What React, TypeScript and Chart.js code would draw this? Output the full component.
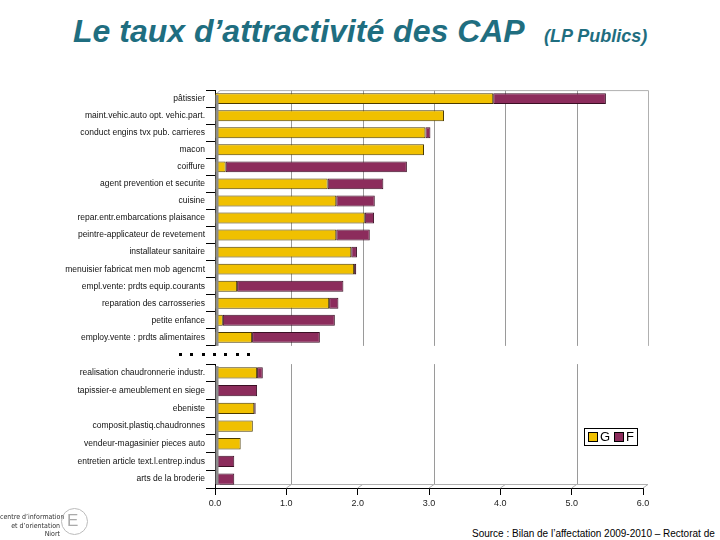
import React, { useEffect, useRef } from "react";
import { Chart, registerables } from "chart.js";

Chart.register(...registerables);

const topLabels = [
  "pâtissier",
  "maint.vehic.auto opt. vehic.part.",
  "conduct engins tvx pub. carrieres",
  "macon",
  "coiffure",
  "agent prevention et securite",
  "cuisine",
  "repar.entr.embarcations plaisance",
  "peintre-applicateur de revetement",
  "installateur sanitaire",
  "menuisier fabricat men mob agencmt",
  "empl.vente: prdts equip.courants",
  "reparation des carrosseries",
  "petite enfance",
  "employ.vente : prdts alimentaires",
];
const topG = [3.9, 3.21, 2.95, 2.93, 0.15, 1.58, 1.7, 2.1, 1.7, 1.91, 1.95, 0.31, 1.6, 0.11, 0.52];
const topF = [1.58, 0, 0.07, 0, 2.54, 0.78, 0.54, 0.13, 0.47, 0.08, 0.03, 1.49, 0.13, 1.57, 0.95];

const bottomLabels = [
  "realisation chaudronnerie industr.",
  "tapissier-e ameublement en siege",
  "ebeniste",
  "composit.plastiq.chaudronnes",
  "vendeur-magasinier pieces auto",
  "entretien article text.l.entrep.indus",
  "arts de la broderie",
];
const bottomG = [0.59, 0, 0.55, 0.53, 0.36, 0, 0];
const bottomF = [0.08, 0.59, 0.02, 0, 0, 0.27, 0.27];

const xTicks = [0, 1, 2, 3, 4, 5, 6];
const seriesNames = ["G", "F"];

const GOLD = "#F0C000";
const GOLD_BORDER = "#4a3a00";
const MAROON = "#8C2C5C";
const MAROON_BORDER = "#3a0f24";
const LABEL_FONT = "'Liberation Sans', Arial, sans-serif";

function makeDecor(kind: "top" | "bottom") {
  return {
    id: "decor-" + kind,
    beforeDatasetsDraw(chart: any) {
      const { ctx, chartArea } = chart;
      const xs = chart.scales.x;
      const off = 5;
      const x0 = xs.getPixelForValue(0);
      const x6 = xs.getPixelForValue(6);
      ctx.save();
      ctx.strokeStyle = "#9a9a9a";
      ctx.lineWidth = 1;
      const bottomY = kind === "top" ? chartArea.bottom : chartArea.bottom - 4;
      const grid = kind === "top" ? [1, 2, 3, 4, 5] : [1, 3, 5];
      for (const v of grid) {
        const x = Math.round(xs.getPixelForValue(v) + off) + 0.5;
        ctx.beginPath();
        ctx.moveTo(x, chartArea.top);
        ctx.lineTo(x, bottomY);
        ctx.stroke();
      }
      if (kind === "top") {
        ctx.strokeStyle = "#b0b0b0";
        ctx.beginPath();
        ctx.moveTo(x0 + off, chartArea.top + 0.5);
        ctx.lineTo(x6 + off + 0.5, chartArea.top + 0.5);
        ctx.lineTo(x6 + off + 0.5, chartArea.bottom);
        ctx.stroke();
        ctx.beginPath();
        ctx.moveTo(x0, chartArea.top + 5);
        ctx.lineTo(x0 + off, chartArea.top + 0.5);
        ctx.stroke();
      } else {
        ctx.strokeStyle = "#b0b0b0";
        ctx.beginPath();
        ctx.moveTo(x0 + off, bottomY + 0.5);
        ctx.lineTo(x6 + off, bottomY + 0.5);
        ctx.lineTo(x6, chartArea.bottom);
        ctx.stroke();
        for (const v of [1, 2, 3, 4, 5]) {
          const x = xs.getPixelForValue(v);
          ctx.beginPath();
          ctx.moveTo(x, chartArea.bottom);
          ctx.lineTo(x + off, bottomY + 0.5);
          ctx.stroke();
        }
      }
      ctx.restore();
    },
    afterDatasetsDraw(chart: any) {
      const { ctx, chartArea } = chart;
      const xs = chart.scales.x;
      const x0 = xs.getPixelForValue(0);
      const bottomY = kind === "top" ? chartArea.bottom : chartArea.bottom - 4;
      const wallTop = kind === "top" ? chartArea.top + 5 : chartArea.top + 2;
      ctx.save();
      ctx.fillStyle = "#8c8c8c";
      ctx.fillRect(x0 + 0.5, wallTop, 3, bottomY - wallTop);
      ctx.restore();
    },
    afterDraw(chart: any) {
      if (kind !== "bottom") return;
      const { ctx } = chart;
      const lx = 584;
      const ly = 428 - 358;
      ctx.save();
      ctx.fillStyle = "#ffffff";
      ctx.fillRect(lx, ly, 53, 17);
      ctx.strokeStyle = "#000";
      ctx.lineWidth = 1;
      ctx.strokeRect(lx + 0.5, ly + 0.5, 53, 17);
      const colors = [GOLD, MAROON];
      const px = [lx + 4, lx + 30];
      ctx.font = "13px " + LABEL_FONT;
      ctx.textBaseline = "middle";
      seriesNames.forEach((n, i) => {
        ctx.fillStyle = colors[i];
        ctx.fillRect(px[i], ly + 4, 10, 10);
        ctx.strokeStyle = "#000";
        ctx.strokeRect(px[i] + 0.5, ly + 4.5, 9, 9);
        ctx.fillStyle = "#000";
        ctx.fillText(n, px[i] + 12, ly + 9.5);
      });
      ctx.restore();
    },
  };
}

function buildConfig(labels: string[], g: number[], f: number[], kind: "top" | "bottom", padTop: number, padBottom: number) {
  return {
    type: "bar" as const,
    data: {
      labels,
      datasets: [
        {
          label: seriesNames[0],
          data: g,
          backgroundColor: GOLD,
          borderColor: GOLD_BORDER,
          borderWidth: 1,
          borderSkipped: false,
          barPercentage: 0.64,
          categoryPercentage: 1,
        },
        {
          label: seriesNames[1],
          data: f,
          backgroundColor: MAROON,
          borderColor: MAROON_BORDER,
          borderWidth: 1,
          borderSkipped: false,
          barPercentage: 0.64,
          categoryPercentage: 1,
        },
      ],
    },
    options: {
      indexAxis: "y" as const,
      responsive: false,
      animation: false as const,
      layout: { padding: { top: padTop, bottom: padBottom, left: 0, right: 17 } },
      plugins: { legend: { display: false }, tooltip: { enabled: false } },
      scales: {
        x: {
          stacked: true,
          min: 0,
          max: 6,
          display: kind === "bottom",
          afterBuildTicks: (s: any) => {
            s.ticks = xTicks.map((v) => ({ value: v }));
          },
          ticks: {
            callback: (v: any) => Number(v).toFixed(1),
            font: { size: 9, family: LABEL_FONT },
            color: "#222",
            padding: 3,
            maxRotation: 0,
          },
          grid: { drawOnChartArea: false, color: "#000", tickLength: 7 },
          border: { color: "#000", width: 1 },
          afterFit: (s: any) => {
            s.height = kind === "bottom" ? 30 : 0;
          },
        },
        y: {
          stacked: true,
          ticks: {
            font: { size: 8.5, family: LABEL_FONT },
            color: "#111",
            padding: 1,
            autoSkip: false,
          },
          grid: { offset: true, drawOnChartArea: false, color: "#000", tickLength: 9 },
          border: { color: "#000", width: 1 },
          afterFit: (s: any) => {
            s.width = 215;
          },
        },
      },
    },
    plugins: [makeDecor(kind)],
  };
}

export default function App() {
  const topRef = useRef<HTMLCanvasElement>(null);
  const botRef = useRef<HTMLCanvasElement>(null);

  useEffect(() => {
    const c1 = new Chart(topRef.current as HTMLCanvasElement, buildConfig(topLabels, topG, topF, "top", 4, 3) as any);
    const c2 = new Chart(botRef.current as HTMLCanvasElement, buildConfig(bottomLabels, bottomG, bottomF, "bottom", 6, 0) as any);
    return () => {
      c1.destroy();
      c2.destroy();
    };
  }, []);

  const dots = [0, 1, 2, 3, 4, 5, 6];

  return (
    <div style={{ position: "fixed", left: 0, top: 0, width: 720, height: 540, background: "#fff", overflow: "hidden", fontFamily: LABEL_FONT }}>
      <div style={{ position: "absolute", left: 73, top: 15, fontSize: 32, lineHeight: "32px", fontStyle: "italic", fontWeight: "bold", color: "#1F6E80", whiteSpace: "nowrap" }}>
        Le taux d’attractivité des CAP
      </div>
      <div style={{ position: "absolute", left: 544, top: 27, fontSize: 18, lineHeight: "18px", fontStyle: "italic", fontWeight: "bold", color: "#1F6E80", whiteSpace: "nowrap" }}>
        (LP Publics)
      </div>
      <canvas ref={topRef} width={660} height={268} style={{ position: "absolute", left: 0, top: 84, width: 660, height: 268 }} />
      <canvas ref={botRef} width={660} height={160} style={{ position: "absolute", left: 0, top: 358, width: 660, height: 160 }} />
      {dots.map((i) => (
        <div key={i} style={{ position: "absolute", left: 179 + i * 11.3, top: 353, width: 3, height: 3, background: "#000" }} />
      ))}
      <div style={{ position: "absolute", left: 472, top: 528, fontSize: 10, lineHeight: "12px", color: "#000", whiteSpace: "nowrap" }}>
        Source : Bilan de l’affectation 2009-2010 – Rectorat de
      </div>
      <div style={{ position: "absolute", left: 0, top: 513, width: 60, textAlign: "right", fontSize: 7, lineHeight: "8.5px", color: "#333", fontFamily: "'Liberation Sans Narrow', 'DejaVu Sans Condensed', sans-serif", whiteSpace: "nowrap" }}>
        <div>centre d’information</div>
        <div>et d’orientation</div>
        <div>Niort</div>
      </div>
      <div style={{ position: "absolute", left: 61, top: 508, width: 25, height: 25, borderRadius: "50%", border: "1px solid #bbb" }} />
      <div style={{ position: "absolute", left: 67, top: 512, fontSize: 17, lineHeight: "18px", color: "#aaa", fontFamily: "'Liberation Sans', sans-serif" }}>E</div>
    </div>
  );
}
